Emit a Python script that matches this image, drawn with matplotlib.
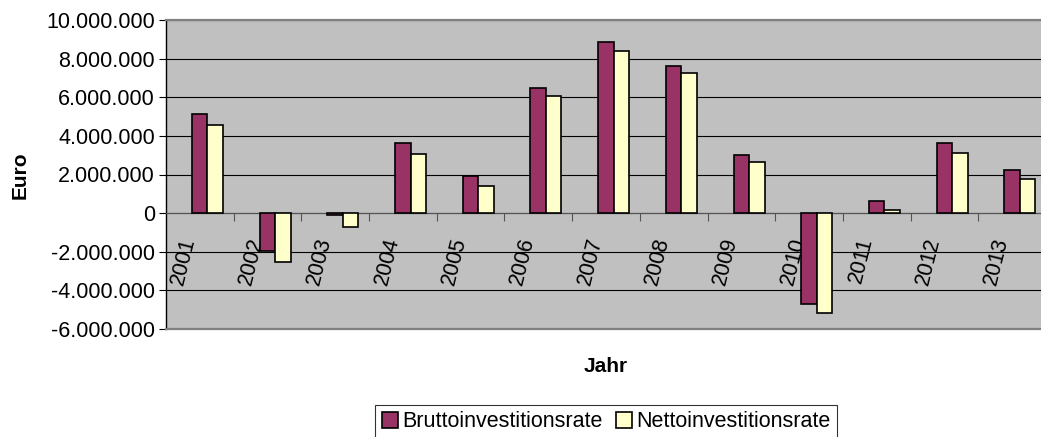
import matplotlib
matplotlib.use("Agg")
import matplotlib.pyplot as plt
from matplotlib.patches import Patch
from matplotlib.ticker import FuncFormatter, FixedLocator
import numpy as np

plt.rcParams['font.family'] = ['Liberation Sans', 'DejaVu Sans']

# daten
jahre = ['2001', '2002', '2003', '2004', '2005', '2006', '2007',
         '2008', '2009', '2010', '2011', '2012', '2013']
brutto = [5110000, -1970000, -80000, 3640000, 1940000, 6490000, 8850000,
          7630000, 3020000, -4730000, 620000, 3620000, 2250000]
netto = [4570000, -2550000, -700000, 3040000, 1420000, 6080000, 8390000,
         7280000, 2640000, -5160000, 180000, 3130000, 1760000]
y_ticks = [-6000000, -4000000, -2000000, 0, 2000000, 4000000,
           6000000, 8000000, 10000000]

farbe_brutto = '#993366'
farbe_netto = '#FFFFCC'

fig = plt.figure(figsize=(10.41, 4.37), dpi=100)
ax = fig.add_axes([166/1041, 108/437, 880/1041, 309/437])
ax.set_facecolor('#C0C0C0')

x = np.arange(len(jahre))
bw = 0.229
ax.bar(x + 0.384, brutto, width=bw, align='edge', color=farbe_brutto,
       edgecolor='black', linewidth=1.2, zorder=3)
ax.bar(x + 0.384 + bw, netto, width=bw, align='edge', color=farbe_netto,
       edgecolor='black', linewidth=1.2, zorder=3)

ax.set_xlim(0, len(jahre))
ax.set_ylim(-6000000, 10000000)

# y-achse
ax.yaxis.set_major_locator(FixedLocator(y_ticks))
ax.yaxis.set_major_formatter(FuncFormatter(lambda v, p: '{:,.0f}'.format(v).replace(',', '.')))
ax.tick_params(axis='y', labelsize=15.5, length=5, width=0.8, direction='out', pad=3)
ax.grid(axis='y', color='black', linewidth=0.8, zorder=1)
ax.set_axisbelow(True)

# x-achse auf null
ax.spines['bottom'].set_position(('data', 0))
ax.spines['bottom'].set_color('#555555')
ax.spines['bottom'].set_linewidth(0.8)
ax.xaxis.set_major_locator(FixedLocator(list(range(1, len(jahre)))))
ax.xaxis.set_major_formatter(FuncFormatter(lambda v, p: ''))
ax.xaxis.set_minor_locator(FixedLocator(list(x + 0.5)))
ax.set_xticklabels(jahre, minor=True)
ax.tick_params(axis='x', which='major', length=6, width=0.8, color='#555555', direction='out')
ax.tick_params(axis='x', which='minor', length=0, labelsize=15.5, pad=16)
for lab in ax.get_xticklabels(minor=True):
    lab.set_rotation(76)
    lab.set_ha('right')
    lab.set_va('top')

ax.spines['left'].set_color('black')
ax.spines['left'].set_linewidth(1.0)
ax.spines['top'].set_color('#808080')
ax.spines['top'].set_linewidth(1.6)
ax.spines['right'].set_visible(False)

# unterer rahmen des plotbereichs
ax.plot([0, len(jahre)], [-6000000, -6000000], color='#808080', linewidth=1.6,
        clip_on=False, zorder=4)

fig.text(20/1041, 1 - 175/437, 'Euro', rotation=90, fontsize=15, fontweight='bold',
         ha='center', va='center')
fig.text(606/1041, 1 - 366/437, 'Jahr', fontsize=15, fontweight='bold',
         ha='center', va='center')

handles = [Patch(facecolor=farbe_brutto, edgecolor='black', linewidth=1.2),
           Patch(facecolor=farbe_netto, edgecolor='black', linewidth=1.2)]
leg = fig.legend(handles, ['Bruttoinvestitionsrate', 'Nettoinvestitionsrate'],
                 loc='upper center', bbox_to_anchor=(606/1041, 1 - 405/437),
                 ncol=2, fontsize=15.5, frameon=True, fancybox=False,
                 handlelength=0.75, handleheight=0.75, handletextpad=0.2,
                 columnspacing=0.6, borderpad=0.3, borderaxespad=0)
leg.get_frame().set_edgecolor('black')
leg.get_frame().set_linewidth(0.8)

fig.savefig('out.png', dpi=100)
